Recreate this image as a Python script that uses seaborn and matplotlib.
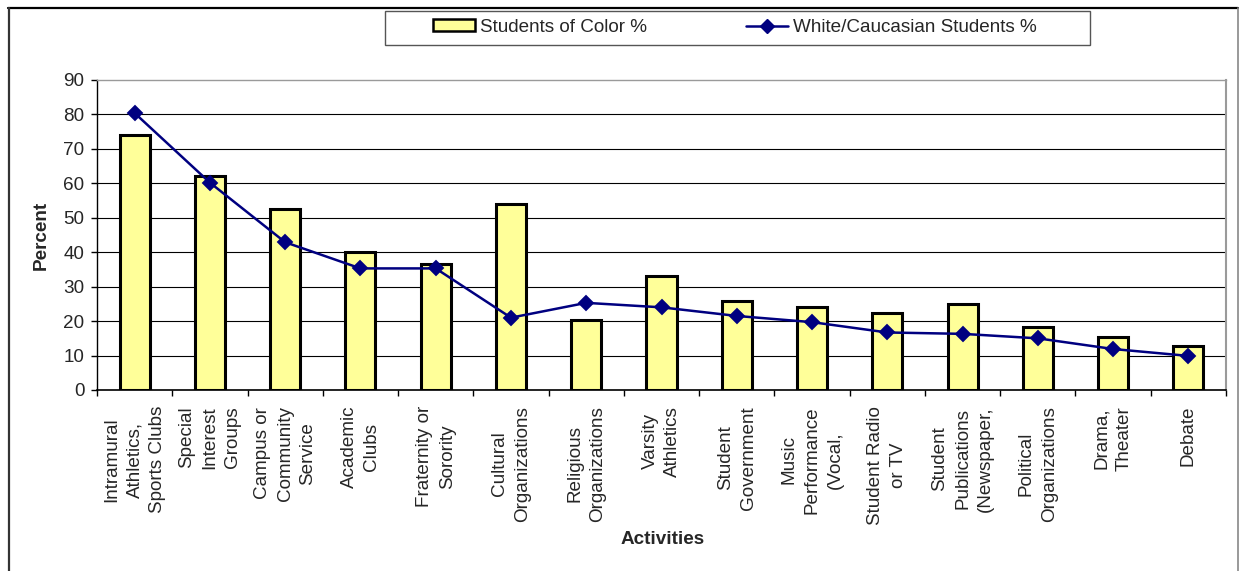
import numpy as np
import matplotlib
matplotlib.use("Agg")
import matplotlib.pyplot as plt
from matplotlib.lines import Line2D
from matplotlib.patches import Patch, Rectangle
import seaborn as sns

# Participation in campus activities
activities = [
    "Intramural\nAthletics,\nSports Clubs",
    "Special\nInterest\nGroups",
    "Campus or\nCommunity\nService",
    "Academic\nClubs",
    "Fraternity or\nSorority",
    "Cultural\nOrganizations",
    "Religious\nOrganizations",
    "Varsity\nAthletics",
    "Student\nGovernment",
    "Music\nPerformance\n(Vocal,",
    "Student Radio\nor TV",
    "Student\nPublications\n(Newspaper,",
    "Political\nOrganizations",
    "Drama,\nTheater",
    "Debate",
]
students_of_color_pct = [74.0, 62.0, 52.5, 40.0, 36.5, 53.9, 20.2, 33.1,
                         25.8, 24.1, 22.4, 25.0, 18.4, 15.4, 12.9]
white_students_pct = [80.4, 60.2, 42.9, 35.3, 35.3, 21.0, 25.3, 24.0,
                      21.5, 19.7, 16.7, 16.3, 15.0, 11.9, 9.9]
y_ticks = list(range(0, 100, 10))

series_labels = ["Students of Color %", "White/Caucasian Students %"]
bar_color = "#FFFF99"
line_color = "#000080"

sns.set_style("white")
plt.rcParams["font.family"] = ["Liberation Sans", "DejaVu Sans"]
FS = 13.6

W, H = 1239, 571
fig = plt.figure(figsize=(W / 100, H / 100), dpi=100)
px = lambda x: x / W
py = lambda y: 1 - y / H

left, right, top, bottom = 97, 1226, 80, 390
ax = fig.add_axes([px(left), py(bottom), px(right) - px(left), (bottom - top) / H])

idx = np.arange(len(activities))
sns.barplot(x=idx, y=students_of_color_pct, color=bar_color, saturation=1,
            width=0.4, edgecolor="black", linewidth=2.2, ax=ax, zorder=3)
sns.pointplot(x=idx, y=white_students_pct, color=line_color, markers="D",
              markersize=7.2, linewidth=1.8, errorbar=None, ax=ax, zorder=4)

n = len(activities)
ax.set_xlim(-0.5, n - 0.5)
ax.set_ylim(0, 90)
ax.set_yticks(y_ticks)
ax.set_yticklabels([str(v) for v in y_ticks], fontsize=FS)

# boundary ticks on the category axis, labels centred between them
ax.set_xticks(np.arange(n + 1) - 0.5)
ax.set_xticklabels([])
ax.set_xticks(idx, minor=True)
ax.set_xticklabels(activities, minor=True, rotation=90, fontsize=FS,
                   linespacing=1.45)
ax.tick_params(axis="x", which="major", length=4.5, width=1, color="black",
               direction="out", bottom=True)
ax.tick_params(axis="x", which="minor", length=0, pad=11.5, bottom=True)
ax.tick_params(axis="y", which="major", length=4.5, width=1, color="black",
               direction="out", left=True, pad=4.5)

ax.yaxis.grid(True, color="black", linewidth=0.8)
ax.xaxis.grid(False)
ax.set_axisbelow(True)
ax.get_ygridlines()[-1].set_visible(False)

for side, col, lw in [("left", "black", 1.0), ("bottom", "black", 1.2),
                      ("top", "#9a9a9a", 1.0), ("right", "#9a9a9a", 1.5)]:
    ax.spines[side].set_visible(True)
    ax.spines[side].set_color(col)
    ax.spines[side].set_linewidth(lw)

ax.set_ylabel("Percent", fontsize=FS, fontweight="bold", va="center")
ax.yaxis.set_label_coords((41 - left) / (right - left), 0.5)
ax.set_xlabel("Activities", fontsize=FS, fontweight="bold", va="center")
ax.xaxis.set_label_coords((663 - left) / (right - left), (bottom - 540) / (bottom - top))

# outer chart frame
fig.add_artist(Line2D([px(8), px(1238)], [py(8), py(8)], color="black", lw=1.6))
fig.add_artist(Line2D([px(9), px(9)], [py(8), 0], color="#333333", lw=1.6))
fig.add_artist(Line2D([px(1237.5), px(1237.5)], [py(8), 0], color="#888888", lw=1.2))

# legend box
fig.add_artist(Rectangle((px(384.5), py(45)), px(1089.5) - px(384.5), 34.5 / H,
                         transform=fig.transFigure, facecolor="white",
                         edgecolor="#555555", lw=1.0))
handles = [
    Patch(facecolor=bar_color, edgecolor="black", linewidth=1.8),
    Line2D([], [], color=line_color, lw=1.8, marker="D", markersize=7.2),
]
fig.legend(handles, series_labels, ncol=2, frameon=False, fontsize=FS,
           loc="center left", bbox_to_anchor=(px(433), py(27.5)),
           bbox_transform=fig.transFigure, borderpad=0, borderaxespad=0,
           handlelength=2.2, handleheight=0.6, handletextpad=0.28,
           columnspacing=5.27)

fig.savefig("out.png", dpi=100)
